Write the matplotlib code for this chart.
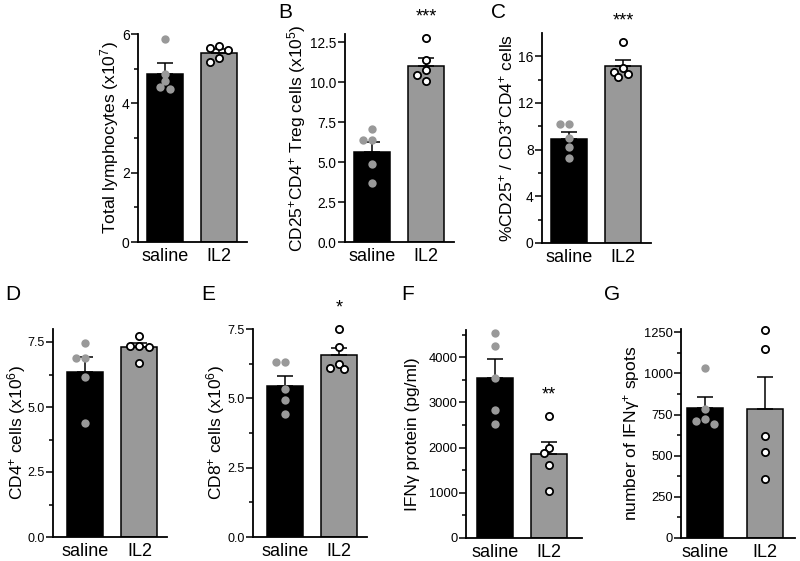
import matplotlib
matplotlib.use("Agg")
import matplotlib.pyplot as plt
import numpy as np

plt.rcParams['font.family'] = ['Liberation Sans', 'DejaVu Sans']
plt.rcParams['mathtext.fontset'] = 'custom'
plt.rcParams['mathtext.rm'] = 'Liberation Sans'
plt.rcParams['mathtext.default'] = 'regular'

groups = ['saline', 'IL2']

# panel data: bar means, upper SEM, individual points
letters = ['', 'B', 'C', 'D', 'E', 'F', 'G']
ylabels = ['Total lymphocytes (x10$^{7}$)',
           'CD25$^{+}$CD4$^{+}$ Treg cells (x10$^{5}$)',
           '%CD25$^{+}$ / CD3$^{+}$CD4$^{+}$ cells',
           'CD4$^{+}$ cells (x10$^{6}$)',
           'CD8$^{+}$ cells (x10$^{6}$)',
           'IFNγ protein (pg/ml)',
           'number of IFNγ$^{+}$ spots']
means = [[4.86, 5.46], [5.65, 11.0], [8.9, 15.15], [6.35, 7.3],
         [5.45, 6.57], [3540, 1856], [789, 785]]
sems = [[0.29, 0.1], [0.6, 0.5], [0.6, 0.55], [0.57, 0.15],
        [0.36, 0.25], [415, 265], [67, 195]]
saline_pts = [[5.85, 4.85, 4.65, 4.48, 4.42],
              [7.05, 6.4, 6.4, 4.9, 3.7],
              [10.2, 10.2, 9.0, 8.2, 7.3],
              [7.45, 6.9, 6.9, 6.15, 4.4],
              [6.3, 6.3, 5.35, 4.95, 4.45],
              [4530, 4240, 3540, 2830, 2520],
              [1035, 785, 725, 710, 695]]
il2_pts = [[5.65, 5.6, 5.55, 5.3, 5.2],
           [12.75, 11.35, 10.75, 10.45, 10.05],
           [17.2, 15.0, 14.65, 14.5, 14.2],
           [7.75, 7.35, 7.35, 7.3, 6.7],
           [7.5, 6.85, 6.25, 6.1, 6.05],
           [2700, 1990, 1880, 1620, 1040],
           [1265, 1150, 620, 520, 360]]
stars = ['', '***', '***', '', '*', '**', '']

ylims = [6, 13, 18, 8, 7.5, 4600, 1270]
majors = [np.arange(0, 7, 2), np.arange(0, 13, 2.5), np.arange(0, 17, 4),
          np.arange(0, 8, 2.5), np.arange(0, 8, 2.5),
          np.arange(0, 4001, 1000), np.arange(0, 1251, 250)]
minors = [[1, 3, 5], [], [2, 6, 10, 14], [1.25, 3.75, 6.25], [1.25, 3.75, 6.25],
          [500, 1500, 2500, 3500, 4500], [125, 375, 625, 875, 1125]]
tickfmt = ['%g', '%.1f', '%g', '%.1f', '%.1f', '%g', '%g']

# axes boxes in pixels: left, top, right, bottom ; xlim ; ylabel centre x
W, H = 800, 561
boxes = [(138, 34, 247, 242), (345, 34, 454, 242), (542, 33, 651, 243),
         (53, 329, 167, 537), (253, 329, 367, 537), (466, 330, 582, 538),
         (681, 329, 795, 538)]
xlims = [(-0.5, 1.52), (-0.5, 1.52), (-0.5, 1.52), (-0.6, 1.51),
         (-0.59, 1.52), (-0.54, 1.61), (-0.4, 1.51)]
label_x = [110, 297, 506, 17, 216, 412, 631]
tick_fs = [10, 9.8, 10, 9, 9, 9.3, 9.3]
letter_pos = [None, (285, 13), (498, 13), (13, 295), (208, 295), (408, 295), (612, 295)]

GRAY = '#999999'
BAR_PX = 36
DOT_PX = 8.5

fig = plt.figure(figsize=(8, 5.61), dpi=100)


def swarm(ax, x0, vals, unit_px):
    # simple beeswarm: place each point at the closest free horizontal slot
    ypx = [ax.transData.transform((0, v))[1] for v in vals]
    placed = []
    xs = []
    steps = [0, -0.55, 0.55, -1.1, 1.1, -1.65, 1.65]
    for yp in ypx:
        for s in steps:
            xp = s * DOT_PX
            ok = all((xp - a) ** 2 + (yp - b) ** 2 >= (DOT_PX * 0.8) ** 2 for a, b in placed)
            if ok:
                break
        placed.append((xp, yp))
        xs.append(x0 + xp / unit_px)
    return xs


for i in range(7):
    l, t, r, b = boxes[i]
    ax = fig.add_axes([l / W, (H - b) / H, (r - l) / W, (b - t) / H])
    ax.set_xlim(*xlims[i])
    ax.set_ylim(0, ylims[i])
    unit_px = (r - l) / (xlims[i][1] - xlims[i][0])
    bw = BAR_PX / unit_px
    ax.bar([0, 1], means[i], width=bw, color=['black', GRAY],
           edgecolor='black', linewidth=1.1, zorder=2)
    for j in range(2):
        ax.errorbar(j, means[i][j], yerr=[[0], [sems[i][j]]], fmt='none',
                    ecolor='black', elinewidth=1.1, capsize=5.5, capthick=1.1, zorder=3)
    xs = swarm(ax, 0, saline_pts[i], unit_px)
    ax.plot(xs, saline_pts[i], 'o', ms=6, mfc=GRAY, mec=GRAY, mew=0, zorder=4,
            clip_on=False)
    xs = swarm(ax, 1, il2_pts[i], unit_px)
    ax.plot(xs, il2_pts[i], 'o', ms=5.2, mfc='white', mec='black', mew=1.3, zorder=4,
            clip_on=False)
    if stars[i]:
        ax.annotate(stars[i], (1, max(il2_pts[i])), xytext=(0, 9),
                    textcoords='offset points', ha='center', va='bottom', fontsize=13)
    ax.set_xticks([0, 1])
    ax.set_xticklabels(groups, fontsize=13)
    ax.tick_params(axis='x', length=0, pad=4)
    ax.set_yticks(majors[i])
    ax.set_yticklabels([tickfmt[i] % v for v in majors[i]], fontsize=tick_fs[i])
    ax.set_yticks(minors[i], minor=True)
    ax.tick_params(axis='y', which='major', length=5, width=1.1, pad=1)
    ax.tick_params(axis='y', which='minor', length=3, width=1.1)
    ax.set_ylabel(ylabels[i], fontsize=12.5, va='center')
    ax.yaxis.set_label_coords((label_x[i] - l) / (r - l), 0.5)
    for s in ['top', 'right']:
        ax.spines[s].set_visible(False)
    for s in ['left', 'bottom']:
        ax.spines[s].set_linewidth(1.3)
    if letter_pos[i]:
        fig.text(letter_pos[i][0] / W, 1 - letter_pos[i][1] / H, letters[i],
                 fontsize=15, ha='center', va='center')

fig.savefig('out.png', dpi=100)
